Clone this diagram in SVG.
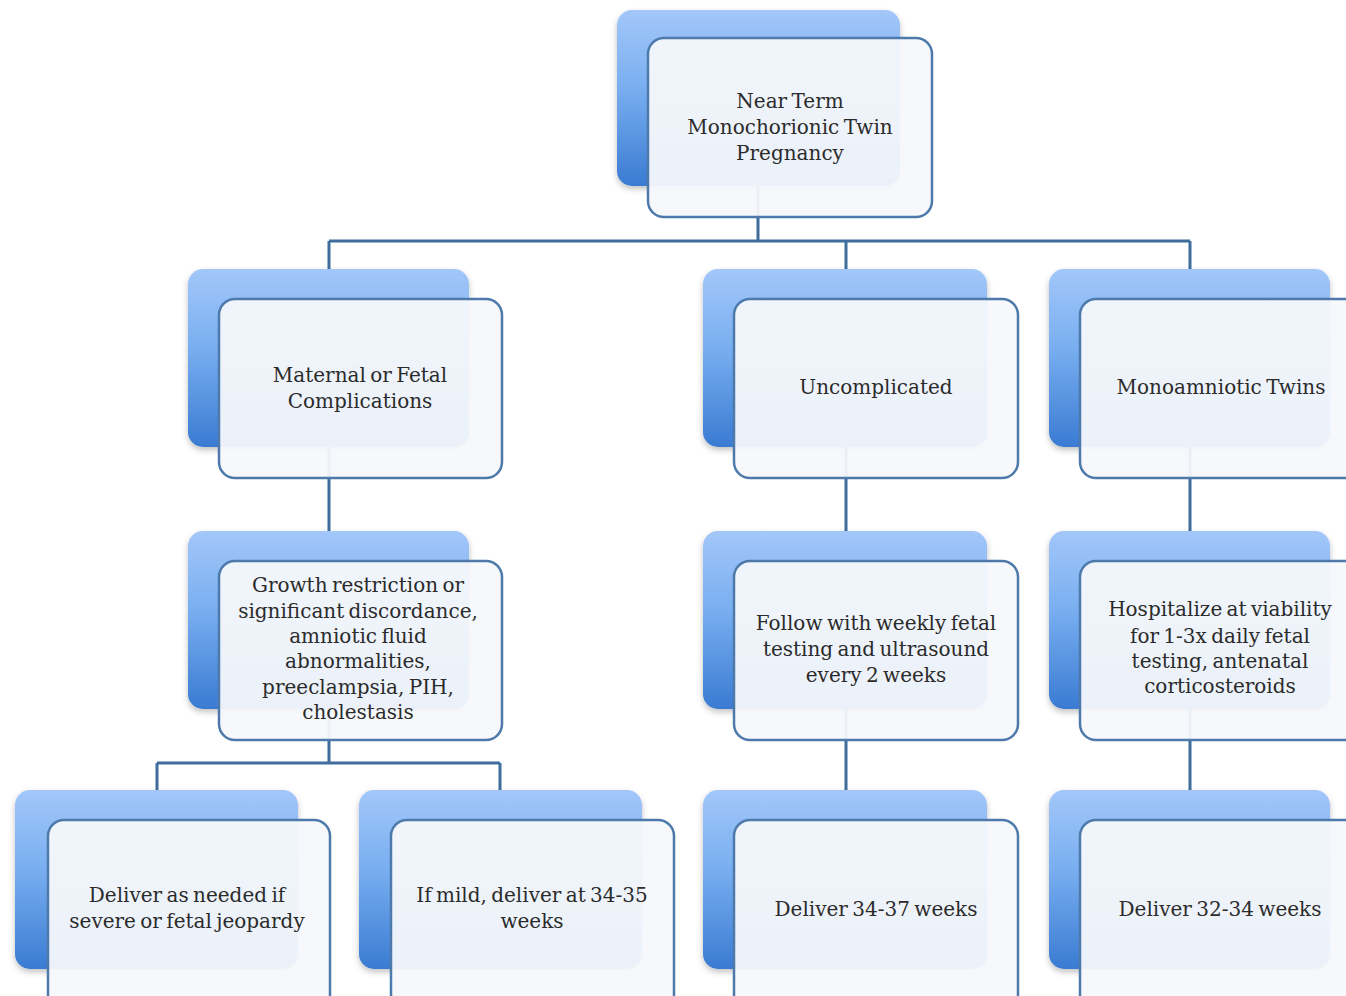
<svg xmlns="http://www.w3.org/2000/svg" width="1346" height="996" viewBox="0 0 1346 996">
<defs>
<linearGradient id="bg" x1="0" y1="0" x2="0" y2="1">
<stop offset="0" stop-color="#a3c7f9"/>
<stop offset="0.45" stop-color="#78aef0"/>
<stop offset="1" stop-color="#3a7bd2"/>
</linearGradient>
<filter id="sh" x="-10%" y="-10%" width="120%" height="125%">
<feGaussianBlur in="SourceAlpha" stdDeviation="3"/>
<feOffset dx="0" dy="3"/>
<feComponentTransfer><feFuncA type="linear" slope="0.25"/></feComponentTransfer>
<feMerge><feMergeNode/><feMergeNode in="SourceGraphic"/></feMerge>
</filter>
</defs>
<style>
.back{fill:url(#bg);filter:url(#sh)}
.front{fill:#f6f8fb;fill-opacity:0.95;stroke:#4d7aab;stroke-width:2.5}
.conn{fill:none;stroke:#3f6d9e;stroke-width:3}
text{font-family:"DejaVu Serif","Liberation Serif",serif;font-size:20px;fill:#2b2b2b;text-anchor:middle;word-spacing:-2px}
</style>
<rect width="1346" height="996" fill="#fff"/>
<g id="connectors" class="conn">
<path d="M758 186V241M329 241H1190M329 241V269M846 241V269M1190 241V269"/>
<path d="M329 447V531M846 447V531M1190 447V531"/>
<path d="M329 709V763M157 763H500M157 763V790M500 763V790"/>
<path d="M846 709V790M1190 709V790"/>
</g>
<g id="n-top">
<rect class="back" x="617" y="10" width="283" height="176" rx="15"/>
<rect class="front" x="648" y="38" width="284" height="179" rx="16"/>
<text x="790" y="108">Near Term</text>
<text x="790" y="134">Monochorionic Twin</text>
<text x="790" y="160">Pregnancy</text>
</g>
<g id="n-maternal">
<rect class="back" x="188" y="269" width="281" height="178" rx="15"/>
<rect class="front" x="219" y="299" width="283" height="179" rx="16"/>
<text x="360" y="382">Maternal or Fetal</text>
<text x="360" y="408">Complications</text>
</g>
<g id="n-uncomplicated">
<rect class="back" x="703" y="269" width="284" height="178" rx="15"/>
<rect class="front" x="734" y="299" width="284" height="179" rx="16"/>
<text x="876" y="394">Uncomplicated</text>
</g>
<g id="n-mono">
<rect class="back" x="1049" y="269" width="281" height="178" rx="15"/>
<rect class="front" x="1080" y="299" width="284" height="179" rx="16"/>
<text x="1221" y="394">Monoamniotic Twins</text>
</g>
<g id="n-growth">
<rect class="back" x="188" y="531" width="281" height="178" rx="15"/>
<rect class="front" x="219" y="561" width="283" height="179" rx="16"/>
<text x="358" y="592">Growth restriction or</text>
<text x="358" y="618">significant discordance,</text>
<text x="358" y="643">amniotic fluid</text>
<text x="358" y="668">abnormalities,</text>
<text x="358" y="694">preeclampsia, PIH,</text>
<text x="358" y="719">cholestasis</text>
</g>
<g id="n-follow">
<rect class="back" x="703" y="531" width="284" height="178" rx="15"/>
<rect class="front" x="734" y="561" width="284" height="179" rx="16"/>
<text x="876" y="630">Follow with weekly fetal</text>
<text x="876" y="656">testing and ultrasound</text>
<text x="876" y="682">every 2 weeks</text>
</g>
<g id="n-hosp">
<rect class="back" x="1049" y="531" width="281" height="178" rx="15"/>
<rect class="front" x="1080" y="561" width="284" height="179" rx="16"/>
<text x="1220" y="616">Hospitalize at viability</text>
<text x="1220" y="643">for 1-3x daily fetal</text>
<text x="1220" y="668">testing, antenatal</text>
<text x="1220" y="693">corticosteroids</text>
</g>
<g id="n-deliver-needed">
<rect class="back" x="15" y="790" width="283" height="179" rx="15"/>
<rect class="front" x="48" y="820" width="282" height="190" rx="16"/>
<text x="187" y="902">Deliver as needed if</text>
<text x="187" y="928">severe or fetal jeopardy</text>
</g>
<g id="n-mild">
<rect class="back" x="359" y="790" width="283" height="179" rx="15"/>
<rect class="front" x="391" y="820" width="283" height="190" rx="16"/>
<text x="532" y="902">If mild, deliver at 34-35</text>
<text x="532" y="928">weeks</text>
</g>
<g id="n-d3437">
<rect class="back" x="703" y="790" width="284" height="179" rx="15"/>
<rect class="front" x="734" y="820" width="284" height="190" rx="16"/>
<text x="876" y="916">Deliver 34-37 weeks</text>
</g>
<g id="n-d3234">
<rect class="back" x="1049" y="790" width="281" height="179" rx="15"/>
<rect class="front" x="1080" y="820" width="284" height="190" rx="16"/>
<text x="1220" y="916">Deliver 32-34 weeks</text>
</g>
</svg>
